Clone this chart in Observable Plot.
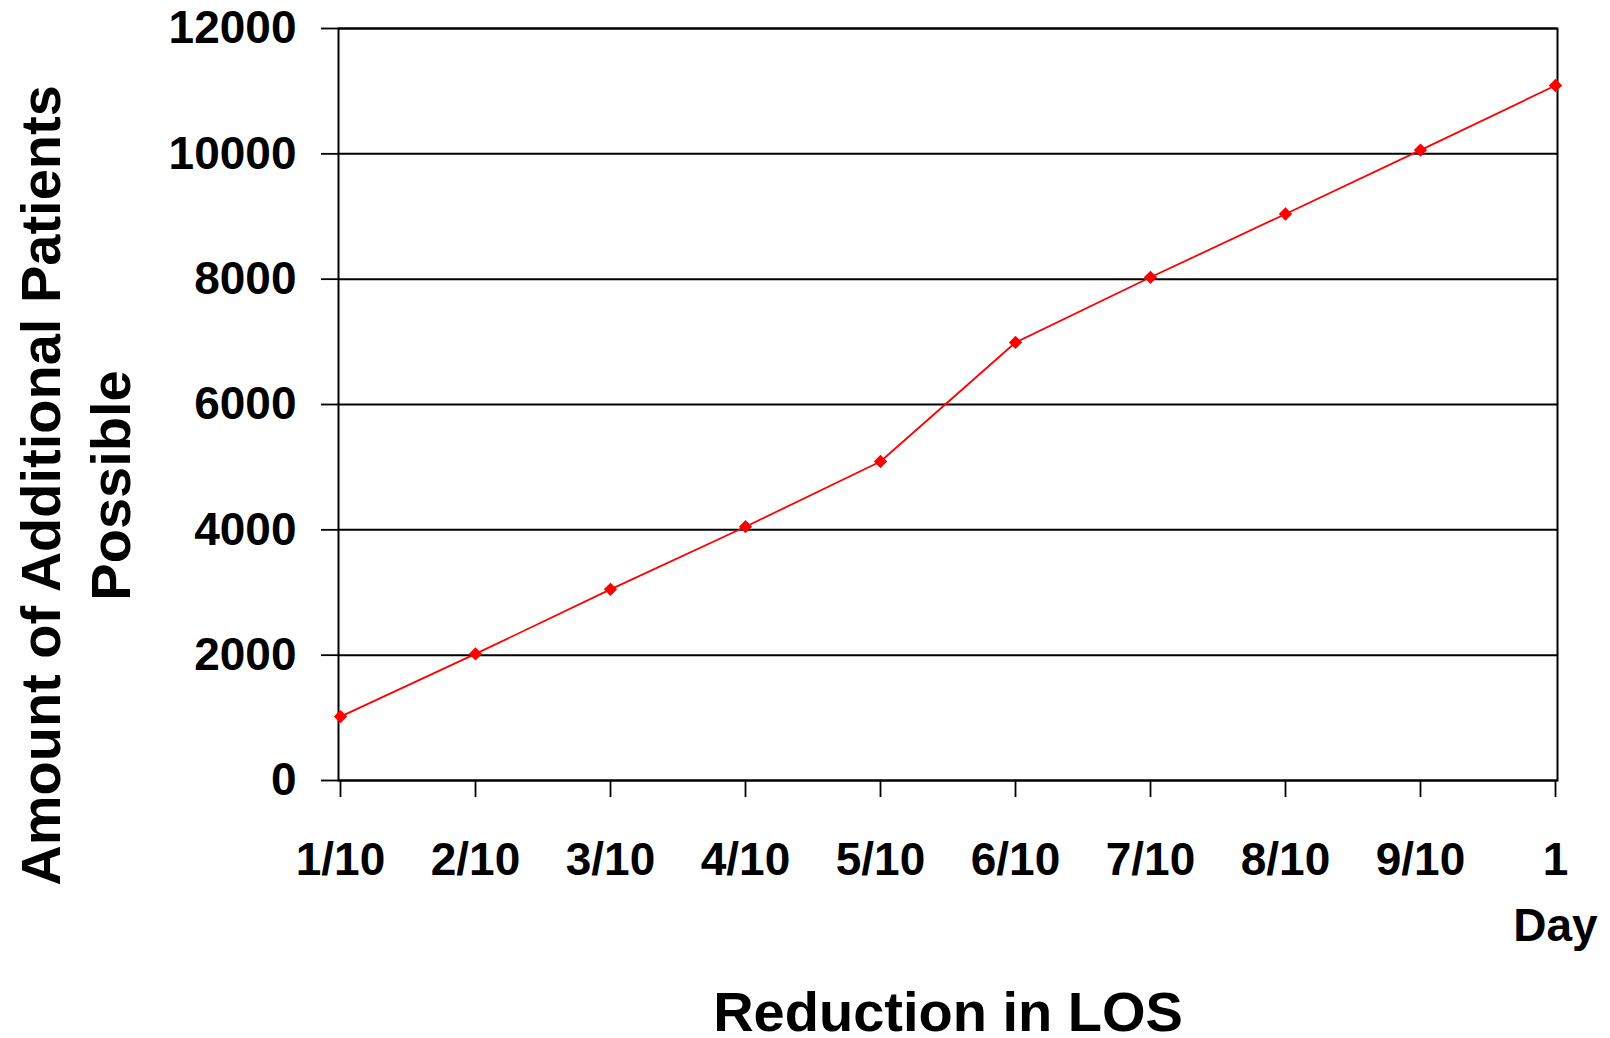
<!DOCTYPE html>
<html>
<head>
<meta charset="utf-8">
<script src="https://cdn.jsdelivr.net/npm/d3@7"></script>
<script src="https://cdn.jsdelivr.net/npm/@observablehq/plot@0.6"></script>
<style>
  html, body { margin: 0; padding: 0; background: #ffffff; }
</style>
</head>
<body>
<div id="chart"></div>
<script>
// ---- data ----
const categories = ["1/10", "2/10", "3/10", "4/10", "5/10", "6/10", "7/10", "8/10", "9/10", "1"];
const values = [1020, 2020, 3050, 4050, 5090, 6990, 8030, 9040, 10060, 11090];
const xTickLabels = ["1/10", "2/10", "3/10", "4/10", "5/10", "6/10", "7/10", "8/10", "9/10", "1\nDay"];
const yTicks = [0, 2000, 4000, 6000, 8000, 10000, 12000];
const xTitle = ["Reduction in LOS"];
const yTitleLine1 = ["Amount of Additional Patients"];
const yTitleLine2 = ["Possible"];

const data = categories.map((c, i) => ({category: c, value: values[i]}));
const font = "'Liberation Sans', Arial, Helvetica, sans-serif";

const chart = Plot.plot({
  width: 1610,
  height: 1038,
  marginLeft: 338,
  marginRight: 53,
  marginTop: 28,
  marginBottom: 258,
  style: {fontFamily: font, fontWeight: "bold", background: "#ffffff", color: "#000000", overflow: "visible"},
  x: {type: "point", domain: categories, padding: 0, label: null},
  y: {domain: [0, 12000], label: null},
  marks: [
    Plot.gridY(yTicks, {stroke: "#000000", strokeOpacity: 1, strokeWidth: 2}),
    Plot.frame({stroke: "#000000", strokeWidth: 2}),
    Plot.axisY(yTicks, {
      tickSize: 17, tickPadding: 25, fontSize: 46, fontWeight: "bold",
      tickFormat: d => String(d), label: null, strokeWidth: 1.8
    }),
    Plot.axisX(categories, {
      tickSize: 17, tickPadding: 31, fontSize: 46, fontWeight: "bold", lineHeight: 1.43,
      tickFormat: c => xTickLabels[categories.indexOf(c)], label: null, strokeWidth: 1.8
    }),
    Plot.line(data, {x: "category", y: "value", stroke: "#ff0000", strokeWidth: 1.8}),
    Plot.dot(data, {x: "category", y: "value", symbol: "diamond2", r: 6, fill: "#ff0000", stroke: "none"}),
    Plot.text(yTitleLine1, {frameAnchor: "left", rotate: -90, dx: -296, dy: 81, fontSize: 56, fontWeight: "bold", textAnchor: "middle", lineAnchor: "middle", text: d => d}),
    Plot.text(yTitleLine2, {frameAnchor: "left", rotate: -90, dx: -226, dy: 81, fontSize: 56, fontWeight: "bold", textAnchor: "middle", lineAnchor: "middle", text: d => d}),
    Plot.text(xTitle, {frameAnchor: "bottom", dy: 233, fontSize: 56, fontWeight: "bold", textAnchor: "middle", lineAnchor: "middle", text: d => d})
  ]
});

document.getElementById("chart").appendChild(chart);
</script>
</body>
</html>
